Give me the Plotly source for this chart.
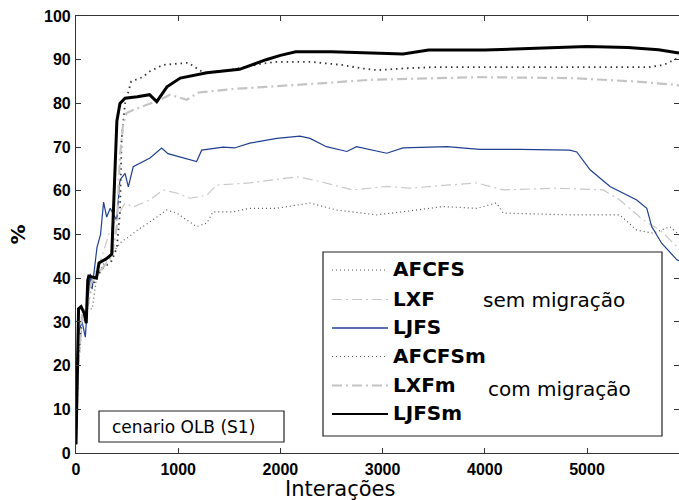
import plotly.graph_objects as go

# ---------------- data ----------------
afcfs_x = [0, 20, 60, 110, 160, 200, 260, 330, 400, 450, 520, 600, 724, 887, 985, 1083, 1180, 1280, 1340,
           1540, 1700, 1965, 2290, 2550, 2940, 3200, 3590, 3920, 4115, 4180, 4830, 5320, 5486, 5650, 5810, 5900]
afcfs_y = [2, 18, 30, 33, 33, 40, 43, 45, 47, 48.5, 49.5, 51, 52.9, 55.6, 54.9, 53.3, 51.8, 52.6, 55.2,
           55.2, 56, 56, 57.2, 55.6, 54.5, 55.2, 56.4, 56, 57.2, 54.9, 54.5, 54.5, 51, 50.3, 51.8, 50]

lxf_x = [0, 20, 60, 110, 150, 200, 255, 320, 400, 480, 560, 724, 850, 985, 1115, 1280, 1376, 1700, 1930,
         2160, 2320, 2710, 3040, 3270, 3630, 3920, 4180, 4670, 5160, 5320, 5550, 5715, 5880, 5900]
lxf_y = [2, 18, 31, 35, 40, 42, 45, 50, 54, 57.2, 56.3, 57.9, 60.2, 59.5, 58.3, 59, 61.3, 61.8, 62.5,
         63.2, 62.5, 60.2, 61, 60.6, 61.3, 61.8, 60.2, 60.6, 60.2, 57.9, 53.3, 51, 47.2, 46.5]

ljfs_x = [0, 15, 30, 60, 91, 110, 140, 157, 205, 240, 270, 300, 335, 368, 398, 430, 480, 512, 560, 724,
          838, 900, 1017, 1180, 1230, 1440, 1550, 1700, 1965, 2190, 2290, 2450, 2650, 2745, 3040, 3200,
          3630, 3950, 4345, 4830, 4900, 5030, 5225, 5486, 5585, 5633, 5730, 5880, 5900]
ljfs_y = [2, 14, 28, 30, 26.5, 33, 41, 37.5, 47, 50, 57.4, 54, 56, 54.5, 53.3, 62.5, 64, 60.9, 65.5, 67.5,
          69.8, 68.5, 67.8, 66.7, 69.3, 70, 69.8, 70.9, 72, 72.5, 72, 70.1, 69, 70.1, 68.6, 69.8,
          70.1, 69.5, 69.5, 69.3, 68.9, 64.8, 61, 57.9, 56, 51.8, 48, 44.2, 44]

afcfsm_x = [0, 20, 60, 110, 150, 250, 350, 400, 430, 447, 480, 540, 650, 720, 850, 1000, 1100, 1150, 1250,
            1500, 1800, 1950, 2300, 2600, 2800, 2950, 3200, 3500, 4000, 5000, 5600, 5750, 5900]
afcfsm_y = [2, 20, 32, 33, 38, 42, 44, 47, 55, 72, 80, 85, 86, 87.3, 88.8, 89, 89.3, 88.5, 87,
            87.6, 89, 89.5, 89.5, 88.8, 88, 87.6, 88, 88.3, 88.3, 88.3, 88.3, 88.8, 90.5]

lxfm_x = [0, 20, 60, 110, 150, 250, 350, 400, 430, 460, 495, 560, 724, 820, 920, 1083, 1200, 1540, 1866,
          2030, 2390, 2880, 3530, 3930, 4830, 5486, 5880, 5900]
lxfm_y = [2, 20, 32, 33, 39, 42, 45, 52, 68, 75, 77.8, 78.5, 80, 80.8, 82, 80.8, 82.5, 83.3, 83.8,
          84, 84.6, 85.4, 85.8, 86, 85.8, 85, 84.2, 84]

ljfsm_x = [0, 8, 15, 25, 50, 80, 100, 115, 125, 200, 225, 300, 350, 370, 385, 400, 430, 480, 600, 720,
           790, 890, 1020, 1280, 1600, 1860, 2000, 2150, 2500, 2800, 3200, 3450, 4000, 4500, 5000, 5400,
           5700, 5900]
ljfsm_y = [2, 12, 22, 33, 33.5, 32, 29.7, 39.5, 40.5, 40, 43.5, 44.5, 45.5, 58, 70, 76, 80, 81.2, 81.5, 82,
           80.4, 83.8, 85.8, 87, 87.8, 90, 91, 91.8, 91.8, 91.6, 91.3, 92.2, 92.2, 92.6, 93, 92.8,
           92.3, 91.5]

x_ticks = [0, 1000, 2000, 3000, 4000, 5000]
y_ticks = [0, 10, 20, 30, 40, 50, 60, 70, 80, 90, 100]

# ---------------- styles ----------------
series = [
    ("AFCFS", afcfs_x, afcfs_y, dict(color="#555555", width=1.2, dash="1px,3px")),
    ("LXF", lxf_x, lxf_y, dict(color="#c8c8c8", width=1.2, dash="10px,4px,2px,4px")),
    ("LJFS", ljfs_x, ljfs_y, dict(color="#1f3f8f", width=1.2)),
    ("AFCFSm", afcfsm_x, afcfsm_y, dict(color="#333333", width=1.8, dash="1.5px,4px")),
    ("LXFm", lxfm_x, lxfm_y, dict(color="#c4c4c4", width=2.2, dash="10px,4px,2px,4px")),
    ("LJFSm", ljfsm_x, ljfsm_y, dict(color="#000000", width=3)),
]
legend_lines = [
    dict(color="#555555", width=1.2, dash="1px,3px"),
    dict(color="#c8c8c8", width=1.2, dash="10px,4px,2px,4px"),
    dict(color="#1f3f8f", width=1.3),
    dict(color="#555555", width=1.2, dash="1px,3px"),
    dict(color="#c4c4c4", width=2.2, dash="10px,4px,2px,4px"),
    dict(color="#000000", width=2.2),
]

W, H = 679, 500
L, R, T, B = 76, 0, 16, 47
PW, PH = W - L - R, H - T - B


def px(xp):
    return (xp - L) / PW


def py(yp):
    return (H - B - yp) / PH


fig = go.Figure()
for name, xs, ys, ln in series:
    fig.add_trace(go.Scatter(x=xs, y=ys, mode="lines", name=name, line=ln,
                             showlegend=False, cliponaxis=True))

shapes = []
annotations = []

# legend box
shapes.append(dict(type="rect", xref="paper", yref="paper",
                   x0=px(323), x1=px(662), y0=py(436), y1=py(252),
                   line=dict(color="#222222", width=1.2), fillcolor="white", layer="above"))
row_y = [270, 299.5, 328, 356.5, 385.5, 414]
for (name, _, _, _), ln, ry in zip(series, legend_lines, row_y):
    shapes.append(dict(type="line", xref="paper", yref="paper",
                       x0=px(332), x1=px(388), y0=py(ry), y1=py(ry), line=ln, layer="above"))
    annotations.append(dict(xref="paper", yref="paper", x=px(391), y=py(ry - 1), text="<b>" + name + "</b>",
                            showarrow=False, xanchor="left", yanchor="middle",
                            font=dict(family="DejaVu Sans", size=20, color="black")))
annotations.append(dict(xref="paper", yref="paper", x=px(481), y=py(300), text="sem migração",
                        showarrow=False, xanchor="left", yanchor="middle",
                        font=dict(family="DejaVu Sans", size=20, color="black")))
annotations.append(dict(xref="paper", yref="paper", x=px(486), y=py(389), text="com migração",
                        showarrow=False, xanchor="left", yanchor="middle",
                        font=dict(family="DejaVu Sans", size=20, color="black")))

# scenario box
shapes.append(dict(type="rect", xref="paper", yref="paper",
                   x0=px(99), x1=px(284), y0=py(442), y1=py(411),
                   line=dict(color="#222222", width=1.2), fillcolor="white", layer="above"))
annotations.append(dict(xref="paper", yref="paper", x=px(110), y=py(427), text="cenario OLB (S1)",
                        showarrow=False, xanchor="left", yanchor="middle",
                        font=dict(family="DejaVu Sans", size=17, color="black")))

# x-axis title (offset to the left, as in the reference)
annotations.append(dict(xref="paper", yref="paper", x=px(340), y=py(489), text="Interações",
                        showarrow=False, xanchor="center", yanchor="middle",
                        font=dict(family="DejaVu Sans", size=21, color="black")))

axis_common = dict(showline=True, linecolor="#333333", linewidth=1.2, mirror="ticks",
                   ticks="inside", ticklen=5, tickcolor="#333333", showgrid=False, zeroline=False,
                   automargin=False,
                   tickfont=dict(family="Liberation Sans", size=16, color="black"))

fig.update_layout(
    width=W, height=H,
    margin=dict(l=L, r=R, t=T, b=B, autoexpand=False),
    paper_bgcolor="white", plot_bgcolor="white",
    showlegend=False,
    shapes=shapes, annotations=annotations,
    xaxis=dict(range=[0, 5900], tickvals=x_ticks, ticktext=["<b>%d</b>" % v for v in x_ticks],
               ticklabelstandoff=2, **axis_common),
    yaxis=dict(range=[0, 100], tickvals=y_ticks, ticktext=["<b>%d</b>" % v for v in y_ticks],
               ticklabelstandoff=1,
               title=dict(text="<b>%</b>", standoff=12,
                          font=dict(family="DejaVu Sans", size=20, color="black")),
               **axis_common),
)

fig.write_html("out.html", config={"displayModeBar": False},
               post_script="document.body.style.margin='0';document.body.style.overflow='hidden';")
